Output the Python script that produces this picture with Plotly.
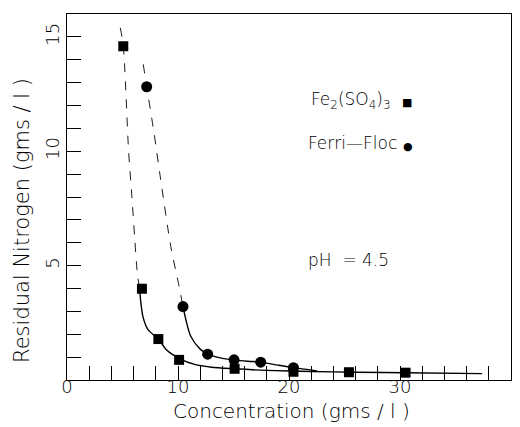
import plotly.graph_objects as go

# measured points
fe_x = [5.07, 6.75, 8.23, 10.1, 15.1, 20.4, 25.4, 30.5]
fe_y = [14.59, 3.99, 1.79, 0.88, 0.49, 0.36, 0.34, 0.32]
ff_x = [7.18, 10.45, 12.67, 15.05, 17.45, 20.4]
ff_y = [12.82, 3.21, 1.13, 0.88, 0.78, 0.54]

# hand-drawn fitted curves
fe_top_x = [4.8, 5.07, 5.55, 5.85, 6.1, 6.35, 6.55]
fe_top_y = [15.4, 14.59, 10.0, 8.0, 6.2, 4.6, 3.99]
fe_low_x = [6.55, 6.65, 6.85, 7.3, 8.23, 9.0, 10.1, 11.5, 13.0, 15.1, 18.0, 22.0, 26.0, 30.5, 37.4]
fe_low_y = [3.99, 3.4, 2.75, 2.2, 1.79, 1.3, 0.95, 0.68, 0.56, 0.49, 0.42, 0.37, 0.34, 0.32, 0.28]
ff_top_x = [6.87, 7.18, 7.84, 8.44, 9.35, 10.1, 10.45]
ff_top_y = [13.8, 12.82, 10.8, 8.76, 5.84, 4.09, 3.21]
ff_low_x = [10.45, 11.16, 12.0, 12.67, 13.8, 15.05, 16.3, 17.45, 19.0, 20.4, 22.5]
ff_low_y = [3.21, 1.9, 1.35, 1.13, 0.97, 0.88, 0.82, 0.78, 0.65, 0.54, 0.40]

x_ticks = [0, 10, 20, 30, 40]
y_ticks = [5, 10, 15]

FONT = "DejaVu Sans"
fig = go.Figure()

def curve(x, y, dash, width):
    fig.add_trace(go.Scatter(x=x, y=y, mode="lines",
                             line=dict(color="black", width=width, dash=dash, shape="spline", smoothing=0.8),
                             hoverinfo="skip", showlegend=False))

curve(fe_top_x, fe_top_y, "dash", 0.9)
curve(fe_low_x, fe_low_y, "solid", 1.4)
curve(ff_top_x, ff_top_y, "dash", 0.9)
curve(ff_low_x, ff_low_y, "solid", 1.4)

fig.add_trace(go.Scatter(x=fe_x, y=fe_y, mode="markers",
                         marker=dict(symbol="square", size=10, color="black"),
                         name="Fe2(SO4)3", showlegend=False))
fig.add_trace(go.Scatter(x=ff_x, y=ff_y, mode="markers",
                         marker=dict(symbol="circle", size=11, color="black"),
                         name="Ferri-Floc", showlegend=False))

txt = dict(family=FONT, size=17, color="black", weight=200)
fig.add_annotation(xref="paper", yref="paper", x=0.735, y=0.765, xanchor="right", yanchor="middle",
                   text="Fe<sub>2</sub>(SO<sub>4</sub>)<sub>3</sub>", showarrow=False, font=txt)
fig.add_annotation(xref="paper", yref="paper", x=0.766, y=0.757, xanchor="center", yanchor="middle",
                   text="■", showarrow=False, font=dict(family=FONT, size=11, color="black"))
fig.add_annotation(xref="paper", yref="paper", x=0.748, y=0.648, xanchor="right", yanchor="middle",
                   text="Ferri—Floc", showarrow=False, font=txt)
fig.add_annotation(xref="paper", yref="paper", x=0.768, y=0.637, xanchor="center", yanchor="middle",
                   text="●", showarrow=False, font=dict(family=FONT, size=11, color="black"))
fig.add_annotation(xref="paper", yref="paper", x=0.635, y=0.328, xanchor="center", yanchor="middle",
                   text="pH  = 4.5", showarrow=False, font=txt)

# axis titles
ttl = dict(family=FONT, size=20, color="black", weight=200)
fig.add_annotation(xref="paper", yref="paper", x=0.505, y=-0.085, xanchor="center", yanchor="middle",
                   text="Concentration (gms / l )", showarrow=False, font=ttl)
fig.add_annotation(xref="paper", yref="paper", x=-0.101, y=0.435, xanchor="center", yanchor="middle",
                   text="Residual Nitrogen (gms / l )", textangle=-90, showarrow=False,
                   font=dict(family=FONT, size=21, color="black", weight=200))

axis_common = dict(showline=True, linecolor="black", linewidth=1, mirror=True,
                   showgrid=False, zeroline=False, ticks="inside", ticklen=14,
                   tickcolor="black", tickwidth=1,
                   tickfont=dict(family=FONT, size=18, color="black", weight=200))

fig.update_xaxes(range=[0, 40], tickvals=x_ticks, ticktext=[str(v) for v in x_ticks],
                 ticklabelstandoff=-10,
                 minor=dict(dtick=2, ticks="inside", ticklen=14, tickcolor="black", tickwidth=1),
                 **axis_common)
fig.update_yaxes(range=[0, 16], tickvals=y_ticks, ticktext=[str(v) for v in y_ticks], tickangle=-90,
                 minor=dict(dtick=1, ticks="inside", ticklen=14, tickcolor="black", tickwidth=1),
                 **axis_common)

# page body has an 8px margin: size/margins chosen so the plot area lands at 67..511 x 14..380
fig.update_layout(width=512, height=419, margin=dict(l=59, r=9, t=6, b=47),
                  plot_bgcolor="white", paper_bgcolor="white", showlegend=False)

fig.write_html("out.html")
